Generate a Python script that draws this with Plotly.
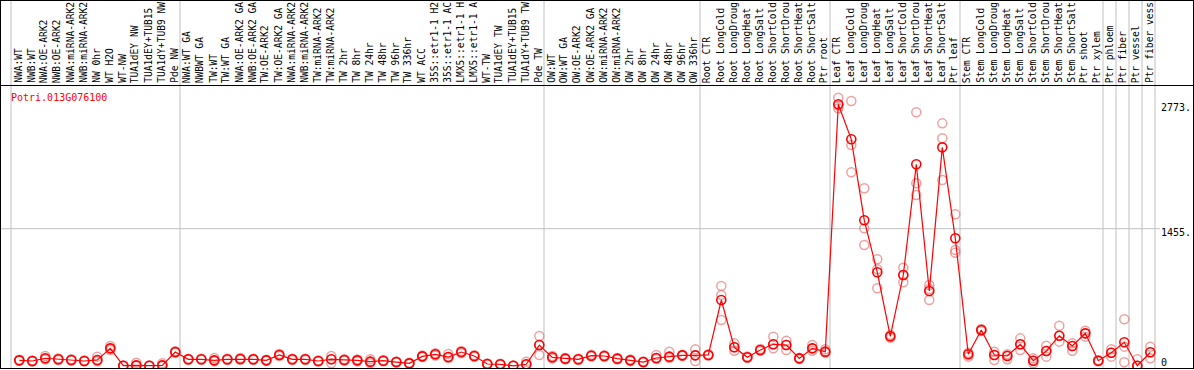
import plotly.graph_objects as go

gene = "Potri.013G076100"

# sample labels as visible in the reference (long names are clipped at the top there)
samples = [
    "NWA:WT", "NWB:WT", "NWA:OE-ARK2", "NWB:OE-ARK2", "NWA:miRNA-ARK2", "NWB:miRNA-ARK2",
    "NW 0hr", "WT H2O", "WT-NW", "TUA1dEY NW", "TUA1dEY+TUB15", "TUA1dY+TUB9 NW", "Pde NW",
    "NWA:WT GA", "NWBWT GA", "TW:WT", "TW:WT GA", "NWA:OE-ARK2 GA", "NWB:OE-ARK2 GA",
    "TW:OE-ARK2", "TW:OE-ARK2 GA", "NWA:miRNA-ARK2", "NWB:miRNA-ARK2", "TW:miRNA-ARK2",
    "TW:miRNA-ARK2", "TW 2hr", "TW 8hr", "TW 24hr", "TW 48hr", "TW 96hr", "TW 336hr",
    "WT ACC", "35S::etr1-1 H2", "35S::etr1-1 AC", "LMX5::etr1-1 H", "LMX5::etr1-1 A",
    "WT-TW", "TUA1dEY TW", "TUA1dEY+TUB15", "TUA1dY+TUB9 TW", "Pde TW",
    "OW:WT", "OW:WT GA", "OW:OE-ARK2", "OW:OE-ARK2 GA", "OW:miRNA-ARK2", "OW:miRNA-ARK2",
    "OW 2hr", "OW 8hr", "OW 24hr", "OW 48hr", "OW 96hr", "OW 336hr",
    "Root CTR", "Root LongCold", "Root LongDroug", "Root LongHeat", "Root LongSalt",
    "Root ShortCold", "Root ShortDrou", "Root ShortHeat", "Root ShortSalt", "Ptr root",
    "Leaf CTR", "Leaf LongCold", "Leaf LongDroug", "Leaf LongHeat", "Leaf LongSalt",
    "Leaf ShortCold", "Leaf ShortDrou", "Leaf ShortHeat", "Leaf ShortSalt", "Ptr leaf",
    "Stem CTR", "Stem LongCold", "Stem LongDroug", "Stem LongHeat", "Stem LongSalt",
    "Stem ShortCold", "Stem ShortDrou", "Stem ShortHeat", "Stem ShortSalt", "Ptr shoot",
    "Ptr xylem", "Ptr phloem", "Ptr fiber", "Ptr vessel", "Ptr fiber vess",
]

means = [
    60, 53, 82, 71, 64, 53, 64, 187, 3, 7, 3, 7, 148,
    71, 71, 60, 71, 74, 71, 60, 117, 71, 71, 53, 71, 64, 60, 46, 56, 42, 28, 102, 124,
    95, 148, 106, 21, 18, 2, 18, 222,
    92, 78, 71, 109, 106, 78, 60, 42, 85, 99, 113, 113,
    117, 699, 198, 92, 170, 230, 222, 81, 187, 152,
    2773, 2402, 1544, 993, 315, 964, 2137, 795, 2317, 1353,
    124, 381, 117, 106, 230, 56, 159, 321, 212, 346, 56,
    141, 251, 3, 145,
]

rep1 = [
    55, 48, 70, 64, 58, 50, 50, 170, 0, 0, 0, 0, 140,
    65, 66, 50, 64, 66, 64, 55, 106, 64, 64, 48, 28, 58, 50, 30, 50, 36, 22, 95, 110,
    85, 135, 98, 15, 12, 0, 10, 117,
    80, 70, 64, 100, 98, 70, 52, 36, 75, 85, 105, 53,
    110, 487, 162, 85, 160, 187, 170, 75, 162, 140,
    2730, 2052, 1282, 823, 300, 887, 1812, 699, 1971, 1200,
    99, 370, 64, 71, 170, 28, 99, 258, 162, 311, 50,
    99, 39, 0, 81,
]

rep2 = [
    60, 53, 82, 71, 64, 53, 64, 187, 3, 7, 3, 7, 148,
    71, 71, 60, 71, 74, 71, 60, 117, 71, 71, 53, 71, 64, 60, 46, 56, 42, 28, 102, 124,
    95, 148, 106, 21, 18, 2, 18, 222,
    92, 78, 71, 109, 106, 78, 60, 42, 85, 99, 113, 113,
    117, 752, 198, 92, 170, 230, 222, 81, 187, 152,
    2760, 2342, 1459, 1025, 315, 964, 1936, 815, 2413, 1229,
    124, 381, 117, 110, 230, 56, 159, 321, 212, 346, 56,
    141, 205, 3, 145,
]

rep3 = [
    66, 58, 106, 80, 72, 58, 99, 212, 6, 35, 6, 28, 156,
    78, 76, 85, 78, 84, 78, 66, 128, 78, 78, 58, 106, 72, 70, 71, 62, 48, 34, 110, 135,
    127, 160, 115, 27, 24, 5, 46, 318,
    106, 86, 78, 118, 115, 86, 68, 48, 117, 152, 120, 177,
    124, 848, 240, 100, 180, 311, 268, 88, 222, 177,
    2843, 2808, 1883, 1131, 330, 1042, 2688, 858, 2571, 1607,
    140, 392, 152, 125, 293, 81, 215, 427, 240, 374, 62,
    177, 495, 71, 205,
]

y_labels = ["2773.", "1455.", "0"]
y_label_vals = [2773, 1455, 0]
grid_val = 1455
group_starts = [0, 13, 41, 53, 63, 73, 84, 85, 86, 87, 88]

W, H = 1194, 370
T, B = 85, 1
plot_h = H - T - B  # 284


def px_x(p):
    return p / W


def px_y(p):
    return (H - B - p) / plot_h


# calibration: index i at pixel 19.3 + 13*i ; value 0 at y=366, 2773 at y=104.3
x0_px, dx_px = 19.3, 13.0
xr = [-x0_px / dx_px, (W - x0_px) / dx_px]
ppu = (366 - 104.3) / 2773.0
yr = [-(H - B - 366) / ppu, (366 - T) / ppu]

xs = list(range(len(samples)))

fig = go.Figure()

rx, ry = [], []
for reps in (rep1, rep2, rep3):
    rx += xs
    ry += reps
fig.add_trace(go.Scatter(
    x=rx, y=ry, mode="markers",
    marker=dict(symbol="circle-open", size=9, color="rgba(232,120,120,0.7)",
                line=dict(width=1.5, color="rgba(232,120,120,0.7)")),
    hoverinfo="skip", showlegend=False,
))
fig.add_trace(go.Scatter(
    x=xs, y=means, mode="lines+markers",
    line=dict(color="#ff0000", width=1.2),
    marker=dict(symbol="circle-open", size=9, color="#ff0000",
                line=dict(width=1.6, color="#e80000")),
    hovertext=samples, showlegend=False,
))

shapes = []
for k in group_starts:
    xp = x0_px + dx_px * k - 8.3
    shapes.append(dict(type="line", xref="paper", yref="paper",
                       x0=px_x(xp), x1=px_x(xp), y0=px_y(0), y1=px_y(H - B),
                       line=dict(color="#c0c0c0", width=1), layer="below"))
shapes.append(dict(type="line", xref="paper", yref="y",
                   x0=0, x1=px_x(1160), y0=grid_val, y1=grid_val,
                   line=dict(color="#c0c0c0", width=1), layer="below"))
blk = dict(color="#000000", width=1)
shapes += [
    dict(type="line", xref="paper", yref="paper", x0=0, x1=1, y0=px_y(0.5), y1=px_y(0.5), line=blk),
    dict(type="line", xref="paper", yref="paper", x0=0, x1=1, y0=px_y(85.5), y1=px_y(85.5), line=blk),
    dict(type="line", xref="paper", yref="paper", x0=0, x1=1, y0=px_y(368.5), y1=px_y(368.5), line=blk),
    dict(type="line", xref="paper", yref="paper", x0=px_x(0.5), x1=px_x(0.5), y0=px_y(0), y1=px_y(368.5), line=blk),
    dict(type="line", xref="paper", yref="paper", x0=px_x(1193.5), x1=px_x(1193.5), y0=px_y(0), y1=px_y(368.5), line=blk),
]

mono = "DejaVu Sans Mono"
annotations = []
for i, s in enumerate(samples):
    annotations.append(dict(
        x=i, xref="x", y=px_y(84), yref="paper", text=s, showarrow=False,
        textangle=-90, xanchor="center", yanchor="bottom", xshift=-1, borderpad=0,
        font=dict(family=mono, size=9.6, color="#000000"),
    ))
annotations.append(dict(
    x=px_x(9), xref="paper", y=px_y(97.7), yref="paper", text=gene, showarrow=False,
    xanchor="left", yanchor="middle", font=dict(family=mono, size=10, color="#ff0000"),
))
label_ypx = [107, 232, 362]
for lab, yp in zip(y_labels, label_ypx):
    annotations.append(dict(
        x=px_x(1159), xref="paper", y=px_y(yp), yref="paper", text=lab, showarrow=False,
        xanchor="left", yanchor="middle", font=dict(family=mono, size=10, color="#000000"),
    ))

fig.update_layout(
    width=W, height=H,
    margin=dict(l=0, r=0, t=T, b=B, pad=0),
    paper_bgcolor="white", plot_bgcolor="white",
    xaxis=dict(range=xr, visible=False, fixedrange=True),
    yaxis=dict(range=yr, visible=False, fixedrange=True),
    shapes=shapes, annotations=annotations,
    showlegend=False,
)

fig.write_html("out.html", config={"displayModeBar": False},
               post_script="document.body.style.margin='0';")
